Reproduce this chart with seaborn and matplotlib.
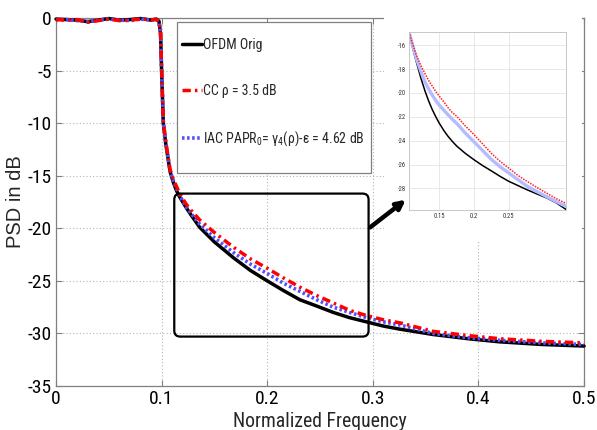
import numpy as np
import pandas as pd
import seaborn as sns
import matplotlib
matplotlib.use("Agg")
import matplotlib.pyplot as plt
from matplotlib import font_manager
from matplotlib.patches import FancyBboxPatch, FancyArrowPatch, Rectangle

# ---------------- data ----------------
freq = [0.0, 0.01, 0.02, 0.03, 0.04, 0.05, 0.06, 0.07, 0.08, 0.09, 0.095,
        0.0975, 0.099, 0.100, 0.1016, 0.104, 0.108, 0.111, 0.114, 0.117, 0.12,
        0.124, 0.128, 0.136, 0.15, 0.168, 0.184, 0.2, 0.215, 0.231, 0.247,
        0.2625, 0.278, 0.294, 0.31, 0.326, 0.357, 0.39, 0.42, 0.46, 0.5]
psd_orig = [-0.1, -0.15, -0.2, -0.35, -0.2, -0.05, -0.2, -0.15, -0.05, -0.2, -0.1,
            -0.3, -1.5, -5.0, -10.0, -12.0, -14.6, -15.6, -16.4, -17.0, -17.5,
            -18.15, -18.75, -19.9, -21.3, -22.8, -24.0, -25.0, -25.9, -26.8, -27.4,
            -28.0, -28.5, -28.9, -29.3, -29.6, -30.1, -30.5, -30.8, -31.05, -31.2]
psd_cc = [-0.15, -0.2, -0.15, -0.4, -0.25, -0.1, -0.25, -0.2, -0.1, -0.15, -0.15,
          -0.3, -1.4, -4.8, -9.8, -11.8, -14.4, -15.3, -16.0, -16.65, -17.2,
          -17.8, -18.3, -19.2, -20.4, -21.8, -22.9, -23.8, -24.7, -25.6, -26.4,
          -27.1, -27.8, -28.3, -28.7, -29.0, -29.8, -30.2, -30.5, -30.75, -30.9]
psd_iac = [-0.2, -0.15, -0.25, -0.35, -0.2, -0.1, -0.2, -0.25, -0.1, -0.2, -0.15,
           -0.35, -1.5, -4.9, -9.9, -11.9, -14.5, -15.45, -16.2, -16.85, -17.4,
           -18.05, -18.6, -19.6, -20.9, -22.3, -23.4, -24.3, -25.2, -26.0, -26.8,
           -27.5, -28.0, -28.5, -28.9, -29.2, -30.0, -30.4, -30.65, -30.9, -31.05]

# zoomed picture (inset)
inset_freq = [0.107, 0.1125, 0.118, 0.124, 0.130, 0.135, 0.140, 0.145, 0.150,
              0.157, 0.1625, 0.169, 0.1754, 0.1875, 0.2003, 0.213, 0.2257, 0.238,
              0.250, 0.263, 0.276, 0.29, 0.3047, 0.318, 0.332]
inset_orig = [-14.9, -16.3, -17.5, -18.75, -19.85, -20.65, -21.35, -21.95, -22.5,
              -23.15, -23.6, -24.05, -24.45, -25.05, -25.6, -26.1, -26.55, -27.0,
              -27.4, -27.75, -28.1, -28.45, -28.8, -29.2, -29.75]
inset_cc = [-14.9, -15.95, -16.9, -17.7, -18.4, -18.95, -19.4, -19.85, -20.25,
            -20.75, -21.2, -21.65, -21.95, -22.75, -23.5, -24.3, -25.1, -25.75,
            -26.3, -26.9, -27.4, -27.9, -28.4, -28.85, -29.25]
inset_iac = [-14.9, -16.1, -17.2, -18.2, -19.1, -19.65, -20.15, -20.6, -21.0,
             -21.45, -21.8, -22.2, -22.55, -23.35, -24.1, -24.85, -25.6, -26.2,
             -26.7, -27.25, -27.8, -28.25, -28.7, -29.1, -29.5]

x_ticks = [0, 0.1, 0.2, 0.3, 0.4, 0.5]
x_tick_labels = ["0", "0.1", "0.2", "0.3", "0.4", "0.5"]
y_ticks = [-35, -30, -25, -20, -15, -10, -5, 0]
y_tick_labels = ["-35", "-30", "-25", "-20", "-15", "-10", "-5", "0"]
inset_x_ticks = [0.15, 0.2, 0.25]
inset_x_labels = ["0.15", "0.2", "0.25"]
inset_y_ticks = [-28, -26, -24, -22, -20, -18, -16]
inset_y_labels = ["-28", "-26", "-24", "-22", "-20", "-18", "-16"]

labels = ["OFDM Orig", "CC \u03c1 = 3.5 dB",
          "IAC PAPR$_0$= \u03b3$_4$(\u03c1)-\u03b5 = 4.62 dB"]

# ---------------- style ----------------
sns.set_theme(style="white")
names = {f.name for f in font_manager.fontManager.ttflist}
NARROW = None
for cand in ["Liberation Sans Narrow", "Arial Narrow", "Nimbus Sans Narrow",
             "Roboto Condensed", "Open Sans Condensed"]:
    if cand in names:
        NARROW = cand
        break
if NARROW is None:
    FONT = "Liberation Sans"
    k = 0.86  # shrink sizes to match the compressed widths of the original
else:
    FONT = NARROW
    k = 1.0
plt.rcParams["font.family"] = [FONT, "DejaVu Sans"]
plt.rcParams["mathtext.fontset"] = "custom"
plt.rcParams["mathtext.rm"] = FONT
plt.rcParams["mathtext.it"] = FONT
plt.rcParams["mathtext.default"] = "regular"

W, H = 597, 430
fig = plt.figure(figsize=(W / 100, H / 100), dpi=100)
fig.patch.set_facecolor("white")


def fpx(x0, y0, x1, y1):
    """pixel box (top-left origin) -> figure fraction rect"""
    return [x0 / W, 1 - y1 / H, (x1 - x0) / W, (y1 - y0) / H]


ax = fig.add_axes(fpx(56, 18, 584, 386))
ax.set_facecolor("white")

RED_DASH = (0, (2.4, 1.2, 0.7, 1.2))
BLUE_DOT = (0, (0.7, 0.7))

sns.lineplot(x=freq, y=psd_orig, ax=ax, color="black", lw=2.5, sort=False,
             label=labels[0], zorder=3, clip_on=False)
sns.lineplot(x=freq, y=psd_iac, ax=ax, color="#5050ff", lw=2.6, sort=False,
             linestyle=BLUE_DOT, label=labels[2], zorder=4, clip_on=False)
sns.lineplot(x=freq, y=psd_cc, ax=ax, color="#ff0000", lw=2.5, sort=False,
             linestyle=RED_DASH, label=labels[1], zorder=5, clip_on=False)

ax.set_xlim(0, 0.5)
ax.set_ylim(-35, 0)
ax.set_xticks(x_ticks)
ax.set_xticklabels(x_tick_labels, fontsize=14 * k)
ax.set_yticks(y_ticks)
ax.set_yticklabels(y_tick_labels, fontsize=14 * k)
ax.tick_params(direction="in", length=4, width=0.8, color="#808080",
               top=True, right=True, bottom=True, left=True, pad=3,
               labelcolor="black")
ax.grid(True, linestyle=(0, (1, 2)), color="#b4b4b4", lw=0.8)
for s in ax.spines.values():
    s.set_color("#808080")
    s.set_linewidth(0.9)
ax.set_xlabel("Normalized Frequency", fontsize=14.2 * k, labelpad=2.5)
ax.set_ylabel("PSD in dB", fontsize=14.5, family=["Liberation Sans", "DejaVu Sans"],
              labelpad=2)

# legend: frame drawn as a rectangle, entries by legend
handles, _ = ax.get_legend_handles_labels()
hmap = dict(zip([h.get_label() for h in handles], handles))
ordered = [hmap[l] for l in labels]
frame = Rectangle((177 / W, 1 - 173 / H), (371 - 177) / W, (173 - 22) / H,
                  transform=fig.transFigure, facecolor="white", edgecolor="#808080",
                  lw=0.9, zorder=6, clip_on=False)
ax.add_patch(frame)
leg_fs = 10 * k
leg_px = leg_fs * 100 / 72
leg = ax.legend(ordered, labels, loc="upper left",
                bbox_to_anchor=((182 - 0.4 * leg_px) / W, 1 - (45 - 0.4 * leg_px - 7.5) / H),
                bbox_transform=fig.transFigure, frameon=False, fontsize=leg_fs,
                handlelength=20 / leg_px, handletextpad=0.1,
                labelspacing=(47 - 15) / leg_px,
                borderpad=0.4, borderaxespad=0)
leg.set_zorder(7)

# rounded zoom rectangle in data space
pxx = ax.transData.transform((1, 0))[0] - ax.transData.transform((0, 0))[0]
pxy = ax.transData.transform((0, 1))[1] - ax.transData.transform((0, 0))[1]
rect = FancyBboxPatch((0.112, -30.3), 0.296 - 0.112, 30.3 - 16.7,
                      boxstyle="round,pad=0,rounding_size=%f" % (6 / pxx),
                      mutation_aspect=pxx / pxy, facecolor="none",
                      edgecolor="black", lw=1.6, zorder=6)
ax.add_patch(rect)

# white cover behind the zoomed picture
cover = fig.add_axes(fpx(384, 0, 582, 240))
cover.set_facecolor("white")
cover.set_xticks([])
cover.set_yticks([])
for s in cover.spines.values():
    s.set_visible(False)

# inset
ins = fig.add_axes(fpx(409, 32, 566, 210))
ins.set_facecolor("white")
sns.lineplot(x=inset_freq, y=inset_orig, ax=ins, color="black", lw=1.1, sort=False)
sns.lineplot(x=inset_freq, y=inset_iac, ax=ins, color="#b4bcff", lw=2.4, sort=False)
sns.lineplot(x=inset_freq, y=inset_cc, ax=ins, color="#ff2020", lw=1.1, sort=False,
             linestyle=(0, (1, 0.8)))
ins.set_xlim(0.107, 0.332)
ins.set_ylim(-29.8, -14.9)
ins.set_xticks(inset_x_ticks)
ins.set_xticklabels(inset_x_labels, fontsize=4.8)
ins.set_yticks(inset_y_ticks)
ins.set_yticklabels(inset_y_labels, fontsize=4.8)
ins.tick_params(direction="in", length=2, width=0.5, color="#999999",
                labelcolor="#333333", pad=2)
ins.grid(True, color="#e4e4e4", lw=0.6)
for s in ins.spines.values():
    s.set_color("#c8c8c8")
    s.set_linewidth(0.7)
ins.set_xlabel("")
ins.set_ylabel("")

# arrow
arrow = FancyArrowPatch((368 / W, 1 - 229 / H), (408 / W, 1 - 198 / H),
                        transform=fig.transFigure, arrowstyle="-|>",
                        mutation_scale=13, lw=3.2, color="black", zorder=10)
fig.add_artist(arrow)

fig.savefig("out.png", dpi=100, facecolor="white")
